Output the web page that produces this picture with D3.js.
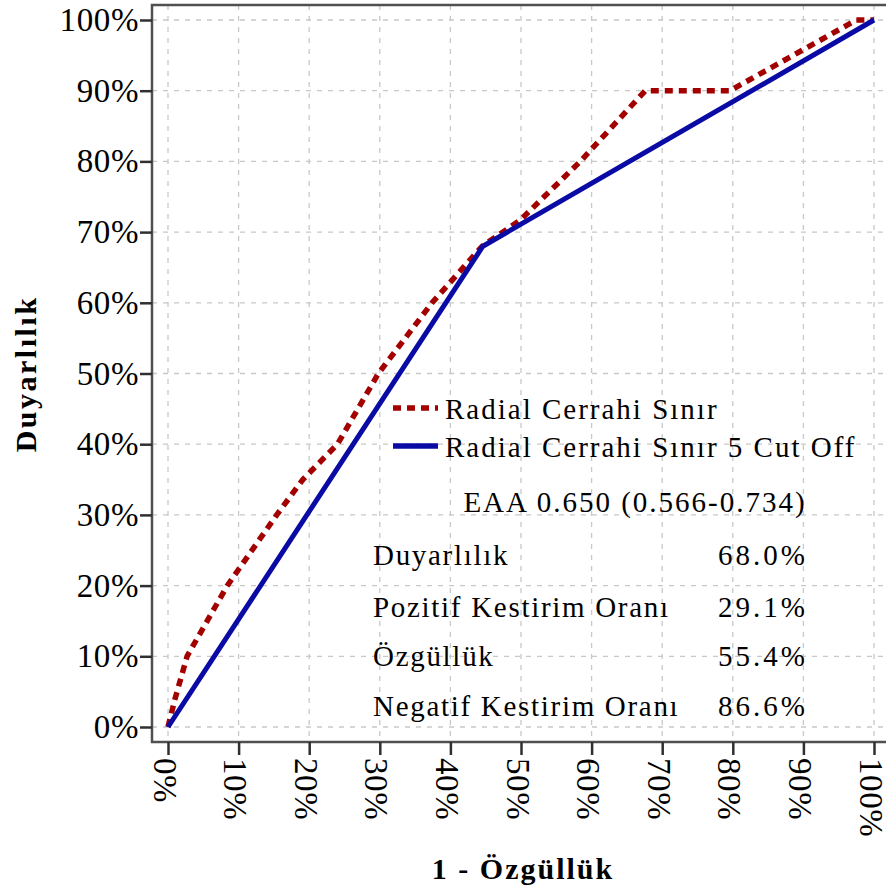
<!DOCTYPE html>
<html>
<head>
<meta charset="utf-8">
<script src="https://cdn.jsdelivr.net/npm/d3@7"></script>
<style>
  body { margin: 0; background: #fff; }
  text { font-family: "Liberation Serif", "Times New Roman", serif; fill: #000; }
</style>
</head>
<body>
<div id="roc_canvas"></div>
<script>
// values, in percent
const tickValues = [0, 10, 20, 30, 40, 50, 60, 70, 80, 90, 100];
const rocX = [0, 1, 2.7, 8.4, 15.4, 19.1, 24, 29.8, 37.4, 44.5, 49.9, 58.4, 67.6, 79.6, 97.5, 100];
const rocY = [0, 4, 10, 20, 30, 35, 40, 50, 60, 68, 71.7, 80, 90, 90, 100, 100];
const cutX = [0, 44.6, 100];
const cutY = [0, 68, 100];
const seriesNames = ['Radial Cerrahi Sınır', 'Radial Cerrahi Sınır 5 Cut Off'];
const aucLabel = 'EAA 0.650 (0.566-0.734)';
const statNames = ['Duyarlılık', 'Pozitif Kestirim Oranı', 'Özgüllük', 'Negatif Kestirim Oranı'];
const statValues = ['68.0%', '29.1%', '55.4%', '86.6%'];

const width = 886;
const height = 891;
const frame = { left: 152, top: 5, right: 890, bottom: 742 };

const svg = d3.select('#roc_canvas').append('svg')
  .attr('width', width).attr('height', height);

const xScale = d3.scaleLinear().domain([0, 100]).range([168, 874]);
const yScale = d3.scaleLinear().domain([0, 100]).range([727, 20]);

// grid
const gridG = svg.append('g').attr('stroke', '#c8c8c8').attr('stroke-width', 1.3)
  .attr('stroke-dasharray', '5,6');
gridG.selectAll('.hgrid').data(tickValues).enter().append('line')
  .attr('x1', frame.left).attr('x2', frame.right)
  .attr('y1', d => yScale(d)).attr('y2', d => yScale(d));
gridG.selectAll('.vgrid').data(tickValues).enter().append('line')
  .attr('y1', frame.top).attr('y2', frame.bottom)
  .attr('x1', d => xScale(d)).attr('x2', d => xScale(d));

// frame
svg.append('rect')
  .attr('x', frame.left).attr('y', frame.top)
  .attr('width', frame.right - frame.left).attr('height', frame.bottom - frame.top)
  .attr('fill', 'none').attr('stroke', '#505050').attr('stroke-width', 2.5);

// axes
const fmt = d => d + '%';
const yAxisG = svg.append('g').attr('transform', `translate(${frame.left},0)`)
  .call(d3.axisLeft(yScale).tickValues(tickValues).tickFormat(fmt).tickSize(12).tickPadding(2));
const xAxisG = svg.append('g').attr('transform', `translate(0,${frame.bottom})`)
  .call(d3.axisBottom(xScale).tickValues(tickValues).tickFormat(fmt).tickSize(13).tickPadding(3));
[yAxisG, xAxisG].forEach(a => {
  a.select('.domain').remove();
  a.selectAll('.tick line').attr('stroke', '#303030').attr('stroke-width', 2.5);
  a.selectAll('.tick text').style('font-family', '"Liberation Serif", serif')
    .style('font-size', '33px').style('letter-spacing', '0.6px').attr('fill', '#000');
});
yAxisG.selectAll('.tick text').attr('x', -13);
xAxisG.selectAll('.tick text')
  .attr('transform', 'rotate(90)')
  .attr('x', 16).attr('y', 0).attr('dy', '0.45em')
  .style('text-anchor', 'start');

// axis titles
svg.append('text')
  .attr('transform', `translate(36,374) rotate(-90)`)
  .attr('text-anchor', 'middle')
  .style('font-size', '30px').style('font-weight', 'bold').style('letter-spacing', '2.5px')
  .text('Duyarlılık');
svg.append('text')
  .attr('x', 523).attr('y', 879)
  .attr('text-anchor', 'middle')
  .style('font-size', '30px').style('font-weight', 'bold').style('letter-spacing', '2px')
  .text('1 - Özgüllük');

// curves
const line = d3.line().x(d => xScale(d[0])).y(d => yScale(d[1]));
svg.append('path')
  .datum(rocX.map((x, i) => [x, rocY[i]]))
  .attr('d', line).attr('fill', 'none')
  .attr('stroke', '#a30000').attr('stroke-width', 5.5)
  .attr('stroke-dasharray', '8,6');
svg.append('path')
  .datum(cutX.map((x, i) => [x, cutY[i]]))
  .attr('d', line).attr('fill', 'none')
  .attr('stroke', '#0a0aa5').attr('stroke-width', 5)
  .attr('stroke-linejoin', 'round');

// legend
const legendG = svg.append('g');
const legendStyle = [
  { color: '#a30000', dash: '8,6', y: 408 },
  { color: '#0a0aa5', dash: null, y: 446 }
];
seriesNames.forEach((name, i) => {
  legendG.append('line')
    .attr('x1', 393).attr('x2', 438)
    .attr('y1', legendStyle[i].y).attr('y2', legendStyle[i].y)
    .attr('stroke', legendStyle[i].color).attr('stroke-width', 5.5)
    .attr('stroke-dasharray', legendStyle[i].dash);
  legendG.append('text')
    .attr('x', 445).attr('y', legendStyle[i].y + 11)
    .style('font-size', '29px').style('letter-spacing', '2px')
    .text(name);
});
svg.append('text')
  .attr('x', 635).attr('y', 512)
  .attr('text-anchor', 'middle')
  .style('font-size', '29px').style('letter-spacing', '2px')
  .text(aucLabel);

// stats table
const statY = [565, 617, 666, 716];
statNames.forEach((name, i) => {
  svg.append('text').attr('x', 373).attr('y', statY[i])
    .style('font-size', '29px').style('letter-spacing', '1.7px').text(name);
  svg.append('text').attr('x', 808).attr('y', statY[i])
    .attr('text-anchor', 'end')
    .style('font-size', '29px').style('letter-spacing', '3px').text(statValues[i]);
});
</script>
</body>
</html>
